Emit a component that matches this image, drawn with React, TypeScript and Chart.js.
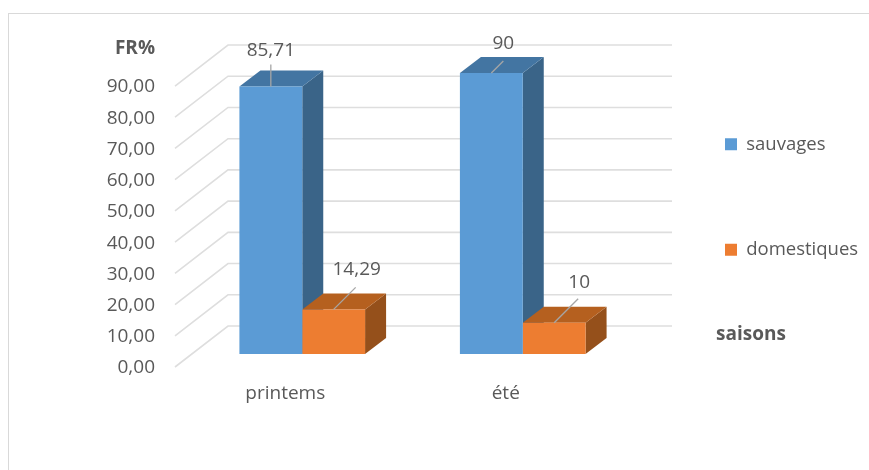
import React, { useEffect, useRef } from "react";
import { Chart, registerables } from "chart.js";

Chart.register(...registerables);

const seasons = ["printems", "été"];
const sauvages = [85.71, 90];
const domestiques = [14.29, 10];
const seriesNames = ["sauvages", "domestiques"];
const yAxisCaption = "FR%";
const xAxisCaption = "saisons";

const FONT = '"Open Sans", sans-serif';
const TEXT = "#595959";
const GRID = "#dedede";

// Oblique projection used for the 3D walls and boxes (pixels).
const wallDepth = { dx: 53, dy: 41 };
const wallExtraRight = 56;
const barShift = { dx: 17, dy: 13 };
const boxDepth = { dx: 21, dy: 16 };

// Where each value caption sits relative to the middle of its box's front top edge.
const labelOffsets = [
  [{ x: 0, y: -36, lx: 0, ly: -22 }, { x: 23, y: -40, lx: 22, ly: -22 }],
  [{ x: 12, y: -29, lx: 12, ly: -12 }, { x: 25, y: -40, lx: 24, ly: -24 }],
];

const shades = [
  { top: "#4375A2", side: "#3A6488" },
  { top: "#B5601F", side: "#95501B" },
];

const comma = (v: number, digits?: number) =>
  (digits === undefined ? String(v) : v.toFixed(digits)).replace(".", ",");

const walls = {
  id: "walls",
  beforeDatasetsDraw(chart: any) {
    const { ctx, chartArea, scales } = chart;
    ctx.save();
    ctx.strokeStyle = GRID;
    ctx.lineWidth = 1.6;
    for (const tick of scales.y.ticks) {
      const y = scales.y.getPixelForValue(tick.value);
      ctx.beginPath();
      ctx.moveTo(chartArea.left, y);
      ctx.lineTo(chartArea.left + wallDepth.dx, y - wallDepth.dy);
      ctx.lineTo(chartArea.right + wallExtraRight, y - wallDepth.dy);
      ctx.stroke();
    }
    ctx.restore();
  },
};

// Side and top faces go down first, left series before right series, so that
// each box's front face and its neighbour's top land over them. The front
// faces are the chart's own bars, moved into the box row.
const boxes = {
  id: "boxes",
  beforeDatasetsDraw(chart: any) {
    const { ctx } = chart;
    ctx.save();
    ctx.translate(barShift.dx, -barShift.dy);
    chart.data.datasets.forEach((_: any, d: number) => {
      const shade = shades[d];
      for (const el of chart.getDatasetMeta(d).data) {
        const { x, y, base, width } = el.getProps(["x", "y", "base", "width"], true);
        const l = x - width / 2;
        const r = x + width / 2;
        ctx.fillStyle = shade.side;
        ctx.beginPath();
        ctx.moveTo(r, y);
        ctx.lineTo(r + boxDepth.dx, y - boxDepth.dy);
        ctx.lineTo(r + boxDepth.dx, base - boxDepth.dy);
        ctx.lineTo(r, base);
        ctx.closePath();
        ctx.fill();
        ctx.fillStyle = shade.top;
        ctx.beginPath();
        ctx.moveTo(l, y);
        ctx.lineTo(l + boxDepth.dx, y - boxDepth.dy);
        ctx.lineTo(r + boxDepth.dx, y - boxDepth.dy);
        ctx.lineTo(r, y);
        ctx.closePath();
        ctx.fill();
      }
    });
    ctx.restore();
  },
  beforeDatasetDraw(chart: any) {
    chart.ctx.save();
    chart.ctx.translate(barShift.dx, -barShift.dy);
  },
  afterDatasetDraw(chart: any) {
    chart.ctx.restore();
  },
};

const captions = {
  id: "captions",
  beforeDraw(chart: any) {
    // The legend floats in the right margin, clear of the plot layout.
    const pad = chart.legend.options.labels.padding;
    chart.legend.left = 725 - pad;
    chart.legend.top = 135 - pad;
    chart.legend.right = 869;
    chart.legend.bottom = 470;
  },
  afterDatasetsDraw(chart: any) {
    const { ctx } = chart;
    ctx.save();
    chart.data.datasets.forEach((ds: any, d: number) => {
      chart.getDatasetMeta(d).data.forEach((el: any, i: number) => {
        const { x, y } = el.getProps(["x", "y"], true);
        const px = x + barShift.dx;
        const py = y - barShift.dy;
        const off = labelOffsets[i][d];
        ctx.strokeStyle = "#a6a6a6";
        ctx.lineWidth = 1.3;
        ctx.beginPath();
        ctx.moveTo(px, py);
        ctx.lineTo(px + off.lx, py + off.ly);
        ctx.stroke();
        ctx.fillStyle = TEXT;
        ctx.font = `19px ${FONT}`;
        ctx.textAlign = "center";
        ctx.textBaseline = "middle";
        ctx.fillText(comma(ds.data[i]), px + off.x, py + off.y);
      });
    });
    ctx.fillStyle = TEXT;
    ctx.font = `bold 19px ${FONT}`;
    ctx.textBaseline = "middle";
    ctx.textAlign = "right";
    ctx.fillText(yAxisCaption, 155, 49);
    ctx.textAlign = "left";
    ctx.fillText(xAxisCaption, 716, 335);
    ctx.restore();
  },
};

export default function App() {
  const ref = useRef<HTMLCanvasElement>(null);

  useEffect(() => {
    const chart = new Chart(ref.current!, {
      type: "bar",
      data: {
        labels: seasons,
        datasets: [
          { label: seriesNames[0], data: sauvages, backgroundColor: "#5B9BD5", clip: false } as any,
          { label: seriesNames[1], data: domestiques, backgroundColor: "#ED7D31", clip: false } as any,
        ],
      },
      plugins: [walls, boxes, captions],
      options: {
        responsive: false,
        animation: false,
        layout: { padding: { left: 100, top: 44, right: 253, bottom: 0 } },
        datasets: { bar: { categoryPercentage: 0.57, barPercentage: 1 } },
        plugins: {
          tooltip: { enabled: false },
          legend: {
            position: "chartArea",
            align: "start",
            labels: {
              boxWidth: 12,
              boxHeight: 12,
              padding: 87,
              color: TEXT,
              font: { family: FONT, size: 18.5 },
            },
          },
        },
        scales: {
          x: {
            grid: { display: false },
            border: { display: false },
            afterFit(scale: any) {
              scale.height = 103;
            },
            ticks: { color: TEXT, padding: 7, font: { family: FONT, size: 19 } },
          },
          y: {
            min: 0,
            max: 103.46,
            grid: { display: false },
            border: { display: false },
            afterFit(scale: any) {
              scale.width = 75;
            },
            afterBuildTicks(scale: any) {
              scale.ticks = scale.ticks.filter((t: any) => t.value <= 90);
            },
            ticks: {
              stepSize: 10,
              color: TEXT,
              padding: 12,
              labelOffset: 1,
              font: { family: FONT, size: 19 },
              callback: (v: any) => comma(Number(v), 2),
            },
          },
        },
      } as any,
    });
    return () => chart.destroy();
  }, []);

  return (
    <div style={{ position: "fixed", inset: 0, overflow: "hidden", background: "#fff" }}>
      <div
        style={{
          position: "absolute",
          left: 8,
          top: 13,
          width: 900,
          height: 500,
          border: "1px solid #d9d9d9",
        }}
      />
      <canvas ref={ref} width={869} height={470} style={{ position: "absolute", left: 0, top: 0 }} />
    </div>
  );
}
